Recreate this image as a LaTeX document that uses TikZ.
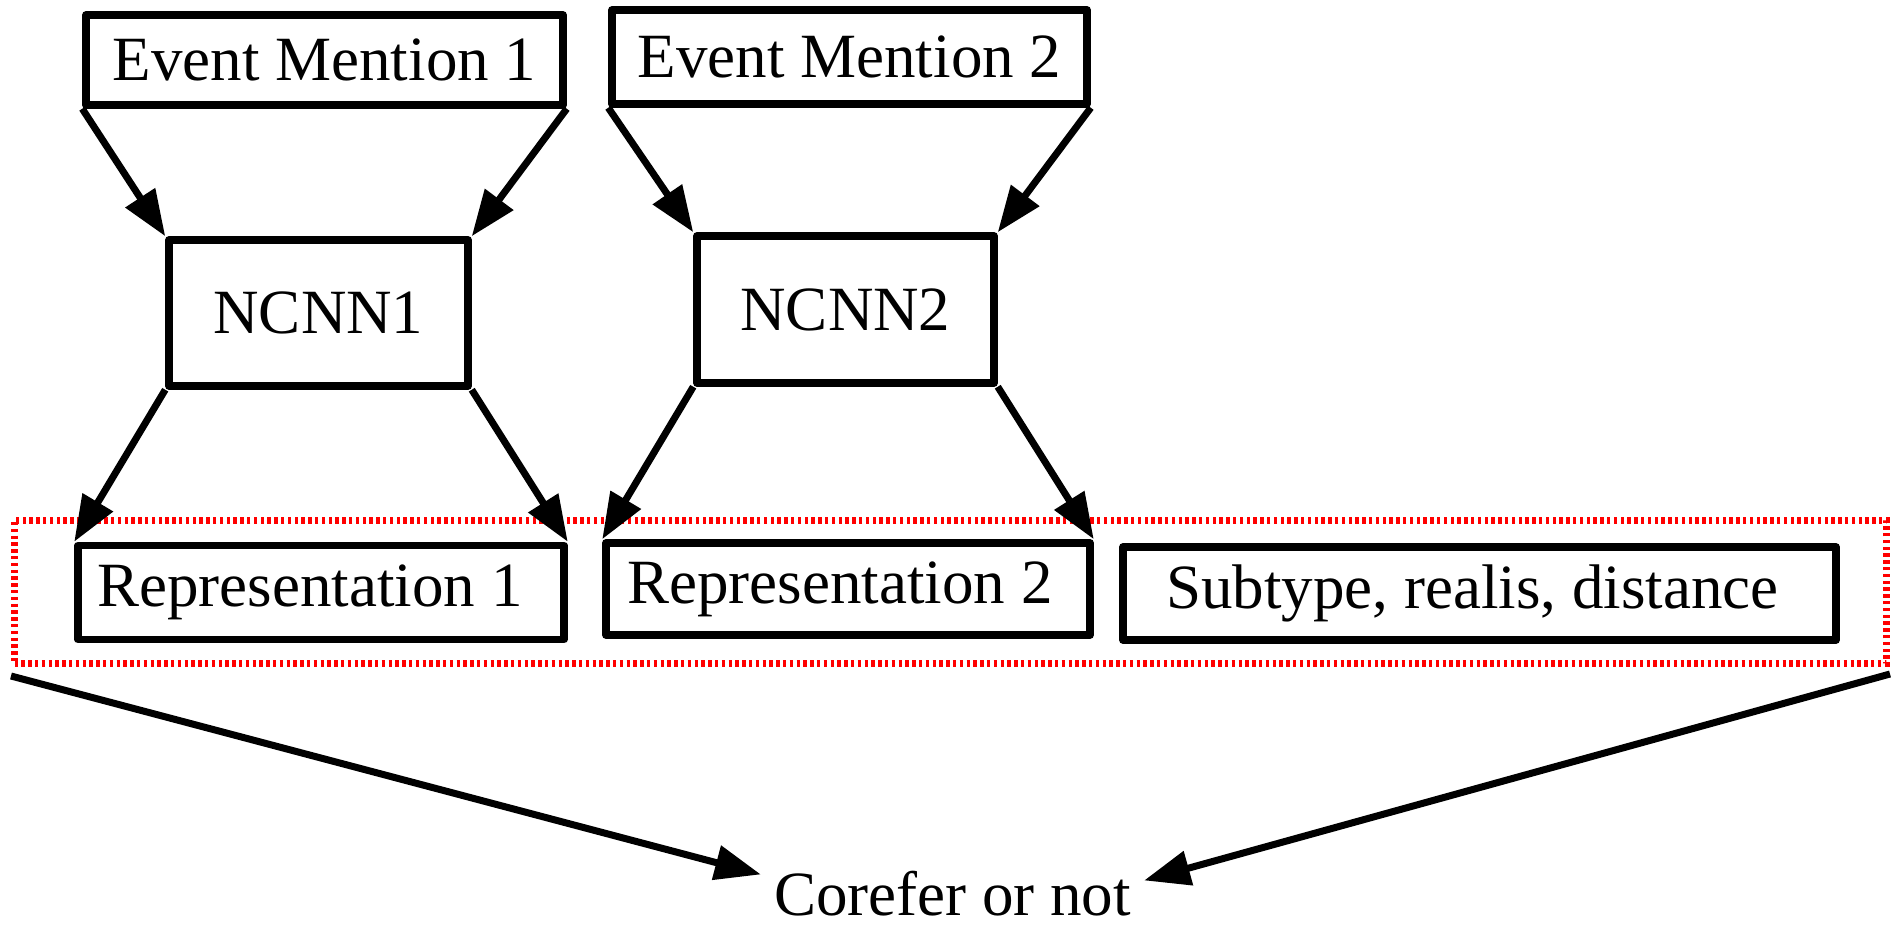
\documentclass[tikz,border=0pt]{standalone}
\usepackage{fontspec}
\setmainfont{Liberation Serif}
\usetikzlibrary{arrows.meta}
\begin{document}
\begin{tikzpicture}[x=1pt,y=-1pt,
  box/.style={draw, line width=7.5pt, line join=round, inner sep=0pt,
    font=\fontsize{63}{70}\selectfont},
  conn/.style={line width=7pt, -{Triangle[length=46pt,width=34pt]}},
  redframe/.style={draw=red, line width=7pt, dash pattern=on 3.4pt off 3.4pt}]
\useasboundingbox (0,0) rectangle (1896,925);

% dotted group around the three feature boxes
\node[redframe, minimum width=1872pt, minimum height=143.5pt, inner sep=0pt] (grp) at (950.5,591.75) {};

% inputs
\node[box, minimum width=477pt, minimum height=90pt] (em1) at (324.5,60) {Event Mention 1};
\node[box, minimum width=475pt, minimum height=94pt] (em2) at (849.5,57) {Event Mention 2};

% encoders
\node[box, minimum width=299pt, minimum height=146pt] (cnn1) at (318.5,313) {NCNN1};
\node[box, minimum width=297pt, minimum height=147pt] (cnn2) at (845.5,309.5) {NCNN2};

% features (labels sit a little left of centre)
\node[box, minimum width=486pt, minimum height=94pt] (rep1) at (321,592.5) {Representation 1\hspace*{22pt}};
\node[box, minimum width=484pt, minimum height=92pt] (rep2) at (848,589) {Representation 2\hspace*{16pt}};
\node[box, minimum width=713pt, minimum height=93pt] (feat) at (1479.5,593.5) {Subtype, realis, distance\hspace*{14pt}};

% output
\node[font=\fontsize{63}{70}\selectfont, inner xsep=13pt, inner ysep=0pt, anchor=base] (out) at (952.5,915) {Corefer or not};

% connectors
\draw[conn] (em1.south west) -- (cnn1.north west);
\draw[conn] (em1.south east) -- (cnn1.north east);
\draw[conn] (em2.south west) -- (cnn2.north west);
\draw[conn] (em2.south east) -- (cnn2.north east);
\draw[conn] (cnn1.south west) -- (rep1.north west);
\draw[conn] (cnn1.south east) -- (rep1.north east);
\draw[conn] (cnn2.south west) -- (rep2.north west);
\draw[conn] (cnn2.south east) -- (rep2.north east);
\draw[conn] ([yshift=-9pt]grp.south west) -- ([yshift=-4pt]out.north west);
\draw[conn] ([yshift=-7pt]grp.south east) -- ([yshift=-10pt]out.north east);
\end{tikzpicture}
\end{document}
